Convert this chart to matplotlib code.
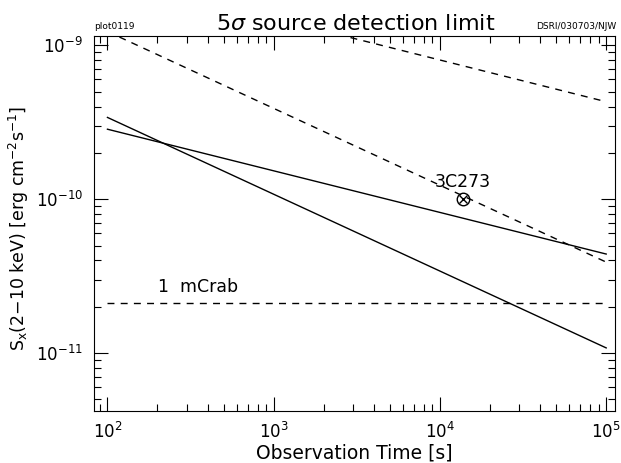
import numpy as np
import matplotlib
matplotlib.use("Agg")
import matplotlib.pyplot as plt
from matplotlib.ticker import LogLocator, NullFormatter

# Data
t_ends = [100, 1e5]
solid_steep = [3.4e-10, 1.08e-11]
solid_shallow = [2.85e-10, 4.4e-11]
dashed_steep = [1.23e-9, 3.9e-11]
dashed_shallow = [2.8e-9, 4.3e-10]
mcrab_level = [2.1e-11, 2.1e-11]
src_t = [1.38e4]
src_flux = [1.0e-10]
src_name = "3C273"

W, H = 621, 463
fig = plt.figure(figsize=(W/100, H/100), dpi=100)
ax = fig.add_axes([94/W, 1-411/H, (615-94)/W, (411-36)/H])
ax.set_xscale('log')
ax.set_yscale('log')
ax.set_xlim(83, 1.13e5)
ax.set_ylim(4.2e-12, 1.15e-9)

lw = 1.0
dash = (0, (5, 4.5))
ax.plot(t_ends, solid_steep, color='black', lw=lw)
ax.plot(t_ends, solid_shallow, color='black', lw=lw)
ax.plot(t_ends, dashed_steep, color='black', lw=lw, ls=dash)
ax.plot(t_ends, dashed_shallow, color='black', lw=lw, ls=dash)
ax.plot(t_ends, mcrab_level, color='black', lw=lw, ls=dash)

ax.plot(src_t, src_flux, marker='o', ms=9, mfc='none', mec='black', mew=1.0, ls='none')
ax.plot(src_t, src_flux, marker='x', ms=6, color='black', mew=1.0, ls='none')
ax.text(src_t[0], src_flux[0]*1.13, src_name, ha='center', va='bottom', fontsize=12.5)
ax.text(3.5e2, mcrab_level[0]*1.12, "1  mCrab", ha='center', va='bottom', fontsize=12.5)

ax.xaxis.set_major_locator(LogLocator(base=10, numticks=10))
ax.xaxis.set_minor_locator(LogLocator(base=10, subs=np.arange(2, 10), numticks=10))
ax.yaxis.set_major_locator(LogLocator(base=10, numticks=10))
ax.yaxis.set_minor_locator(LogLocator(base=10, subs=np.arange(2, 10), numticks=10))
ax.xaxis.set_minor_formatter(NullFormatter())
ax.yaxis.set_minor_formatter(NullFormatter())
ax.xaxis.get_offset_text().set_visible(False)
ax.yaxis.get_offset_text().set_visible(False)
ax.tick_params(which='both', direction='in', top=True, right=True, labelsize=12, width=0.8)
ax.tick_params(which='major', length=10, pad=8)
ax.tick_params(which='minor', length=5)
for s in ax.spines.values():
    s.set_linewidth(0.8)

ax.set_xlabel("Observation Time [s]", fontsize=13.5, labelpad=1)
ax.set_ylabel(r"S$_{\mathrm{x}}$(2$-$10 keV) [erg cm$^{-2}$s$^{-1}$]", fontsize=12.5)
# anchor = right edge of the rotated label at pixel x=31, centred at y=228
ax.yaxis.set_label_coords((31-94)/(615-94), (411-228)/(411-36))
fig.text(356/W, 1-30/H, r"5$\sigma$ source detection limit", ha='center', va='baseline', fontsize=16)
fig.text(94/W, 1-31/H, "plot0119", ha='left', va='bottom', fontsize=6.5)
fig.text(616/W, 1-31/H, "DSRI/030703/NJW", ha='right', va='bottom', fontsize=6.5)

fig.savefig("out.png", dpi=100)
